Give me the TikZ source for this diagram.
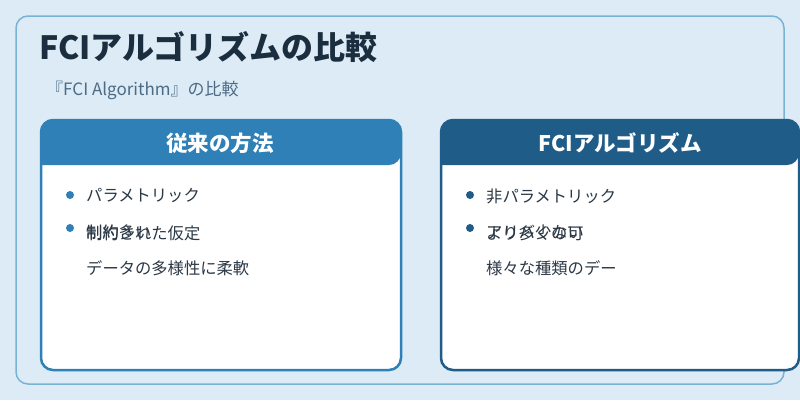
\documentclass[tikz,border=0pt]{standalone}
\usepackage{fontspec}
\setmainfont{Noto Sans CJK JP}
\newfontfamily\cjk{Noto Sans CJK JP}
\definecolor{bgc}{HTML}{DCEBF6}
\definecolor{outerc}{HTML}{7AB2D6}
\definecolor{leftc}{HTML}{2E80B6}
\definecolor{rightc}{HTML}{1F5C88}
\definecolor{titlec}{HTML}{1B2E3F}
\definecolor{subc}{HTML}{4D6B86}
\definecolor{textc}{HTML}{2B3845}
\tikzset{
  card/.style={draw=#1, line width=2.5pt, fill=white, rounded corners=12pt},
  headtxt/.style={text=white, font=\cjk\bfseries\fontsize{21.5}{26}\selectfont, anchor=center},
  item/.style={text=textc, font=\cjk\fontsize{16.3}{19}\selectfont, anchor=west, inner sep=0pt},
  dot/.style={circle, fill=#1, inner sep=0pt, minimum size=8pt}
}
\begin{document}
\begin{tikzpicture}[x=1pt,y=-1pt]
\useasboundingbox (0,0) rectangle (800,400);
\fill[bgc] (0,0) rectangle (800,400);
\draw[outerc, line width=1.5pt, rounded corners=12pt] (16,16) rectangle (784,384);
\node[anchor=west, inner sep=0pt, text=titlec, font=\cjk\bfseries\fontsize{32}{36}\selectfont] (title) at (39,47) {FCIアルゴリズムの比較};
\node[anchor=west, inner sep=0pt, text=subc, font=\cjk\fontsize{17}{20}\selectfont] (sub) at (46,90) {『FCI Algorithm』の比較};
% left card
\draw[card=leftc] (41,120) rectangle (401,370);
\fill[leftc, rounded corners=12pt] (41,165) -- (41,120) -- (401,120) -- (401,165) [sharp corners] -- cycle;
\node[headtxt] (lh) at (220,143) {従来の方法};
\node[dot=leftc] (ld1) at (70,195) {};
\node[item] (lt1) at (86,196) {パラメトリック};
\node[dot=leftc] (ld2) at (70,228) {};
\node[item] (lt2) at (86,233) {制約された仮定};
\node[item] (lt2b) at (86,232) {制約多い};
\node[item] (lt3) at (86,268) {データの多様性に柔軟};
% right card
\draw[card=rightc] (441,120) rectangle (799,370);
\fill[rightc, rounded corners=12pt] (441,165) -- (441,120) -- (799,120) -- (799,165) [sharp corners] -- cycle;
\node[headtxt] (rh) at (620,143) {FCIアルゴリズム};
\node[dot=rightc] (rd1) at (470,195) {};
\node[item] (rt1) at (486,196) {非パラメトリック};
\node[dot=rightc] (rd2) at (470,228) {};
\node[item] (rt2) at (486,233) {より多くの可};
\node[item] (rt2b) at (486,232) {アリバ少ない};
\node[item] (rt3) at (486,268) {様々な種類のデー};
\end{tikzpicture}
\end{document}
